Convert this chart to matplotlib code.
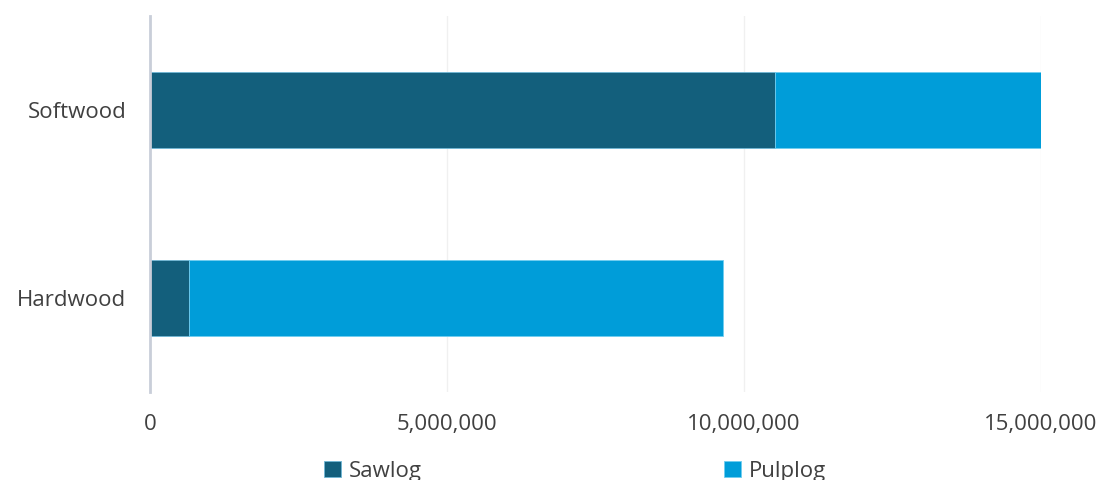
import matplotlib
matplotlib.use("Agg")
import matplotlib.pyplot as plt
from matplotlib.ticker import FuncFormatter

categories = ["Hardwood", "Softwood"]
sawlog = [660000, 10520000]
pulplog = [8990000, 4480000]
series_names = ["Sawlog", "Pulplog"]
xticks = [0, 5000000, 10000000, 15000000]

plt.rcParams['font.family'] = ['Open Sans', 'DejaVu Sans']

fig = plt.figure(figsize=(11.02, 4.8), dpi=100)
ax = fig.add_axes([150/1102, 1-392/480, (1041-150)/1102, (392-16)/480])

c_saw = "#135f7c"
c_pulp = "#009dd9"
y = list(range(len(categories)))
ax.barh(y, sawlog, height=0.4, color=c_saw, edgecolor="#6fb7d6", linewidth=0.6, label=series_names[0], zorder=3)
ax.barh(y, pulplog, left=sawlog, height=0.4, color=c_pulp, edgecolor="#6fcdf0", linewidth=0.6, label=series_names[1], zorder=3)

ax.set_xlim(0, 15000000)
ax.set_ylim(-0.5, 1.5)
ax.set_yticks(y)
ax.set_yticklabels(categories)
ax.set_xticks(xticks)
ax.xaxis.set_major_formatter(FuncFormatter(lambda v, p: f"{int(v):,}"))
ax.tick_params(axis='both', length=0, labelsize=16, colors="#404040")
ax.tick_params(axis='x', pad=16)
ax.tick_params(axis='y', pad=17)
ax.grid(axis='x', color="#f0f0f0", linewidth=1, zorder=0)
for s in ["top", "right", "bottom"]:
    ax.spines[s].set_visible(False)
ax.spines["left"].set_color("#c9ced9")
ax.spines["left"].set_linewidth(2)
ax.spines["left"].set_zorder(4)

fig.legend(loc="lower center", bbox_to_anchor=(575/1102, -0.045), ncol=2, frameon=False,
           fontsize=16, handlelength=0.75, handleheight=0.75, handletextpad=0.35,
           columnspacing=13.6, labelcolor="#404040")

fig.savefig("out.png", dpi=100)
